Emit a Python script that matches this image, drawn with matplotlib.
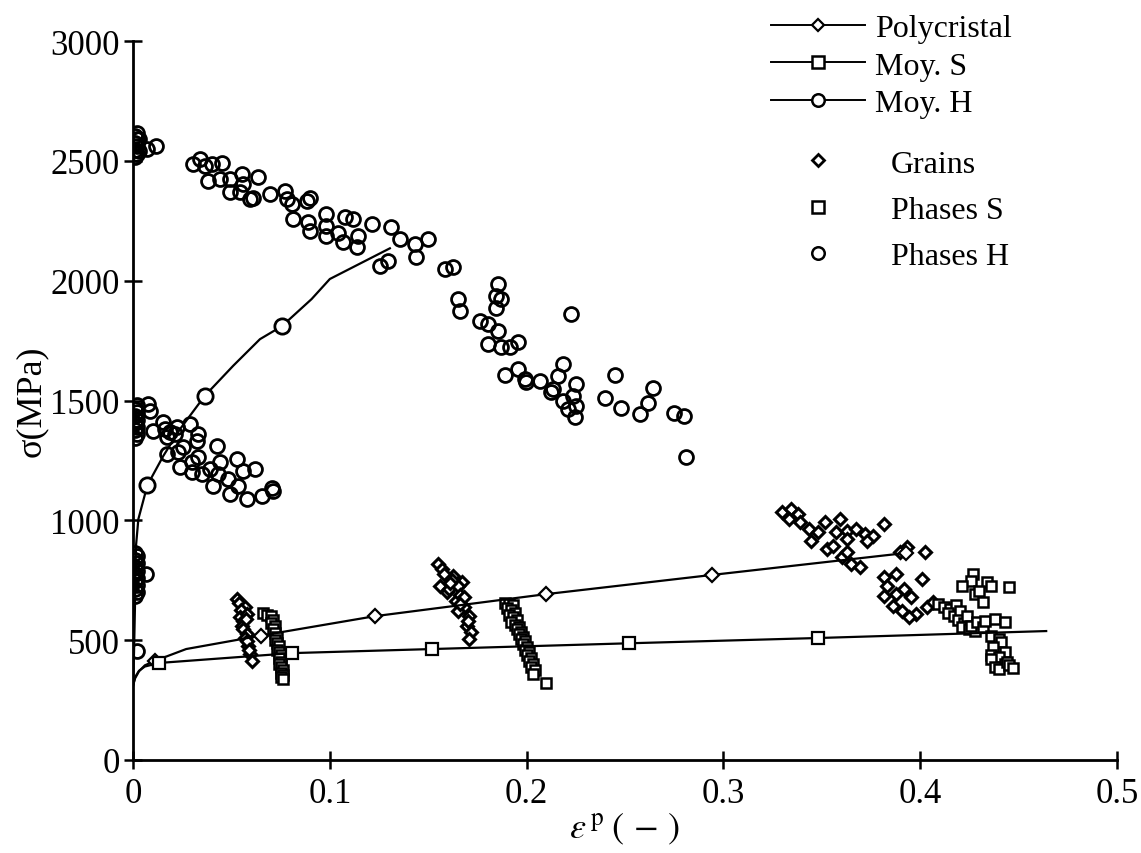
import matplotlib
matplotlib.use('Agg')
import matplotlib.pyplot as plt
from matplotlib.lines import Line2D

plt.rcParams['font.family'] = ['Liberation Serif', 'DejaVu Serif']
plt.rcParams['mathtext.fontset'] = 'stix'

# mean curves (strain, stress MPa)
poly_x = [0, 0.001, 0.003, 0.006, 0.0112, 0.027, 0.065, 0.1228, 0.2098, 0.294, 0.393]
poly_y = [310, 340, 370, 395, 414, 463, 519, 600, 692, 772, 864]
poly_marks = [4, 6, 7, 8, 9, 10]

moys_x = [0, 0.001, 0.003, 0.006, 0.0134, 0.0809, 0.152, 0.252, 0.348, 0.464]
moys_y = [310, 345, 372, 390, 405, 446, 463, 487, 509, 538]
moys_marks = [4, 5, 6, 7, 8]

moyh_x = [0, 0.0005, 0.001, 0.0015, 0.0027, 0.0073, 0.0154, 0.0239, 0.0365,
          0.0509, 0.0645, 0.0756, 0.0907, 0.1, 0.1305]
moyh_y = [310, 450, 650, 893, 1005, 1147, 1269, 1381, 1520,
          1645, 1756, 1810, 1923, 2007, 2135]
moyh_marks = [5, 8, 11]

# grains
grains_x = [0.0526, 0.054, 0.0569, 0.055, 0.0543, 0.056, 0.0555, 0.056, 0.0577, 0.057,
            0.0586, 0.058, 0.0594, 0.0603, 0.059, 0.058, 0.0575,
            0.1549, 0.1571, 0.1628, 0.1673, 0.156, 0.1594, 0.1639, 0.1684, 0.165, 0.1707,
            0.1696, 0.1718, 0.1707, 0.1605, 0.165, 0.158, 0.162, 0.166, 0.168, 0.17, 0.166, 0.161,
            0.330, 0.3345, 0.3378, 0.3333, 0.339, 0.3435, 0.348, 0.3514, 0.3593, 0.357,
            0.3627, 0.3672, 0.3717, 0.3762, 0.3818, 0.3446, 0.3525, 0.3559, 0.3627, 0.3728,
            0.3604, 0.3649, 0.3695, 0.3627, 0.3898, 0.3932, 0.4022, 0.3818, 0.3875, 0.4011,
            0.383, 0.3818, 0.3875, 0.392, 0.3954, 0.3864, 0.3909, 0.3977, 0.3943, 0.4033, 0.4067]
grains_y = [672, 655, 637, 625, 595, 580, 560, 545, 526, 510,
            477, 495, 442, 414, 460, 610, 590,
            818, 797, 769, 741, 727, 700, 665, 637, 623, 602,
            560, 533, 505, 713, 727, 775, 750, 690, 680, 580, 650, 740,
            1033, 1047, 1026, 1005, 992, 964, 950, 992, 1005, 950,
            957, 964, 943, 936, 985, 915, 880, 894, 922, 915,
            846, 818, 804, 866, 866, 887, 866, 762, 776, 755,
            727, 686, 693, 714, 679, 644, 623, 609, 595, 637, 658]

# phases S
phs_x = [0.066, 0.068, 0.070, 0.071, 0.070, 0.072, 0.071, 0.072, 0.073, 0.072, 0.073, 0.074,
         0.073, 0.074, 0.075, 0.074, 0.075, 0.074, 0.075, 0.076, 0.075, 0.076, 0.075, 0.076,
         0.189, 0.191, 0.193, 0.190, 0.192, 0.194, 0.191, 0.193, 0.195, 0.192, 0.194, 0.196,
         0.195, 0.197, 0.196, 0.198, 0.197, 0.199, 0.198, 0.200, 0.199, 0.201, 0.200, 0.202,
         0.201, 0.203, 0.202, 0.204, 0.203, 0.210,
         0.427, 0.426, 0.434, 0.421, 0.436, 0.445, 0.428, 0.432, 0.430,
         0.409, 0.412, 0.415, 0.418, 0.414, 0.417, 0.420, 0.419, 0.422, 0.424, 0.421, 0.425,
         0.428, 0.426, 0.429, 0.432, 0.433, 0.438, 0.443,
         0.436, 0.440, 0.441, 0.437, 0.443, 0.436, 0.440, 0.436, 0.443, 0.438, 0.440, 0.444,
         0.445, 0.447]
phs_y = [612, 605, 600, 585, 570, 560, 545, 530, 515, 500, 490, 475,
         460, 450, 440, 425, 410, 400, 390, 375, 365, 355, 345, 340,
         655, 650, 645, 635, 625, 615, 605, 595, 585, 575, 565, 555,
         545, 535, 525, 515, 505, 495, 485, 470, 460, 450, 440, 425,
         415, 400, 390, 375, 360, 322,
         776, 748, 741, 727, 725, 722, 693, 658, 705,
         650, 640, 630, 645, 615, 600, 620, 585, 570, 600, 555, 545,
         540, 560, 575, 555, 581, 588, 575,
         519, 505, 491, 470, 449, 440, 430, 421, 400, 390, 380, 410,
         395, 385]

# phases H
phh_x = [0.001, 0.002, 0.001, 0.002, 0.001, 0.002, 0.001, 0.002, 0.003, 0.003, 0.007, 0.0115,
         0.001, 0.002, 0.001, 0.002, 0.001, 0.002, 0.001, 0.002, 0.001, 0.002, 0.0078, 0.0087,
         0.001, 0.002, 0.001, 0.002, 0.001, 0.002, 0.001, 0.002, 0.001, 0.002, 0.001, 0.002,
         0.001, 0.0066, 0.002,
         0.0306, 0.034, 0.0366, 0.040, 0.045, 0.0383, 0.0442, 0.0493, 0.0552, 0.056, 0.0636,
         0.0493, 0.0543, 0.0594, 0.061, 0.0696, 0.0772, 0.078, 0.0806, 0.0882, 0.0899, 0.0814,
         0.089, 0.0899, 0.0983, 0.0983, 0.0983, 0.1043, 0.1068, 0.1076, 0.1119, 0.1144, 0.1136,
         0.1212, 0.1313, 0.1356, 0.1432, 0.144, 0.1499, 0.1254, 0.1296, 0.1584, 0.1626, 0.1652,
         0.166,
         0.1855, 0.1846, 0.1872, 0.1846, 0.1761, 0.1804, 0.1855, 0.1804, 0.1872, 0.1914, 0.1956,
         0.2227, 0.1888, 0.1956, 0.199, 0.1998, 0.2066, 0.2134, 0.2125, 0.2159, 0.2184, 0.2252,
         0.2235, 0.2184, 0.221, 0.2252, 0.2244, 0.2396, 0.2447, 0.2481, 0.2574, 0.2616, 0.2641,
         0.2751, 0.2802, 0.2811,
         0.0103, 0.0154, 0.0163, 0.0188, 0.0222, 0.0213, 0.0171, 0.029, 0.0332, 0.0323, 0.0425,
         0.0171, 0.023, 0.0256, 0.0332, 0.0239, 0.0298, 0.0298, 0.0349, 0.0391, 0.0433, 0.0408,
         0.0484, 0.0493, 0.0535, 0.0526, 0.056, 0.0619, 0.0577, 0.0653, 0.0704, 0.0712, 0.0442]
phh_y = [2515, 2530, 2545, 2560, 2575, 2590, 2605, 2618, 2540, 2590, 2550, 2560,
         1345, 1360, 1375, 1390, 1405, 1420, 1435, 1450, 1465, 1480, 1485, 1457,
         685, 700, 715, 730, 745, 760, 775, 790, 805, 820, 835, 850,
         865, 776, 455,
         2486, 2507, 2480, 2486, 2493, 2417, 2424, 2424, 2445, 2403, 2431,
         2368, 2368, 2340, 2347, 2361, 2375, 2340, 2320, 2333, 2347, 2257,
         2243, 2208, 2278, 2229, 2188, 2201, 2160, 2264, 2257, 2188, 2139,
         2236, 2222, 2174, 2153, 2097, 2174, 2062, 2083, 2048, 2055, 1923,
         1875,
         1986, 1937, 1923, 1888, 1833, 1819, 1791, 1735, 1722, 1722, 1745,
         1861, 1606, 1631, 1589, 1578, 1582, 1548, 1537, 1603, 1652, 1569,
         1520, 1499, 1464, 1478, 1430, 1509, 1608, 1468, 1443, 1488, 1553,
         1448, 1434, 1265,
         1374, 1409, 1381, 1367, 1388, 1360, 1346, 1402, 1360, 1332, 1311,
         1277, 1284, 1304, 1263, 1221, 1242, 1200, 1193, 1214, 1193, 1144,
         1172, 1110, 1144, 1256, 1207, 1214, 1089, 1103, 1137, 1124, 1242]

fig = plt.figure(figsize=(11.41, 8.54), dpi=100)
ax = fig.add_axes([0.1166, 0.1089, 0.8624, 0.8419])

ax.plot(phh_x, phh_y, 'o', ls='none', ms=10, mfc='none', mec='black', mew=2.0)
ax.plot(grains_x, grains_y, 'D', ls='none', ms=6.5, mfc='white', mec='black', mew=2.2)
ax.plot(phs_x, phs_y, 's', ls='none', ms=7.5, mfc='white', mec='black', mew=1.8)

ax.plot(moyh_x, moyh_y, '-', color='black', lw=1.6, marker='o', ms=11, mfc='white',
        mec='black', mew=2.0, markevery=moyh_marks)
ax.plot(poly_x, poly_y, '-', color='black', lw=1.6, marker='D', ms=7.5, mfc='white',
        mec='black', mew=1.6, markevery=poly_marks)
ax.plot(moys_x, moys_y, '-', color='black', lw=1.6, marker='s', ms=9, mfc='white',
        mec='black', mew=1.6, markevery=moys_marks)

ax.set_xlim(0, 0.5)
ax.set_ylim(0, 3000)
ax.set_xticks([0, 0.1, 0.2, 0.3, 0.4, 0.5])
ax.set_xticklabels(['0', '0.1', '0.2', '0.3', '0.4', '0.5'])
ax.set_yticks([0, 500, 1000, 1500, 2000, 2500, 3000])
for s in ['top', 'right']:
    ax.spines[s].set_visible(False)
for s in ['left', 'bottom']:
    ax.spines[s].set_linewidth(2.0)
ax.tick_params(direction='inout', length=13, width=1.8, labelsize=25, pad=3)
ax.tick_params(axis='x', pad=6)

ax.set_ylabel('σ(MPa)', fontsize=26, labelpad=2)
ax.set_xlabel(r'$\varepsilon^{\,\mathrm{p}}\;(\,-\,)$', fontsize=26, labelpad=0)

h1 = [Line2D([], [], color='black', lw=1.4, marker='D', ms=6, mfc='white', mec='black', mew=1.6),
      Line2D([], [], color='black', lw=1.4, marker='s', ms=8, mfc='white', mec='black', mew=1.8),
      Line2D([], [], color='black', lw=1.4, marker='o', ms=9, mfc='white', mec='black', mew=1.8)]
leg1 = fig.legend(h1, ['Polycristal', 'Moy. S', 'Moy. H'], loc='upper left',
                  bbox_to_anchor=(0.6757, 0.983), frameon=False, fontsize=23,
                  handlelength=2.95, handletextpad=0.3, labelspacing=0.26,
                  borderpad=0, borderaxespad=0)
h2 = [Line2D([], [], ls='none', marker='D', ms=6, mfc='white', mec='black', mew=2.0),
      Line2D([], [], ls='none', marker='s', ms=8, mfc='white', mec='black', mew=1.8),
      Line2D([], [], ls='none', marker='o', ms=9, mfc='white', mec='black', mew=1.8)]
leg2 = fig.legend(h2, ['Grains', 'Phases S', 'Phases H'], loc='upper left',
                  bbox_to_anchor=(0.6757, 0.824), frameon=False, fontsize=23,
                  handlelength=2.95, handletextpad=0.8, labelspacing=0.53,
                  borderpad=0, borderaxespad=0)

fig.savefig('out.png', dpi=100)
